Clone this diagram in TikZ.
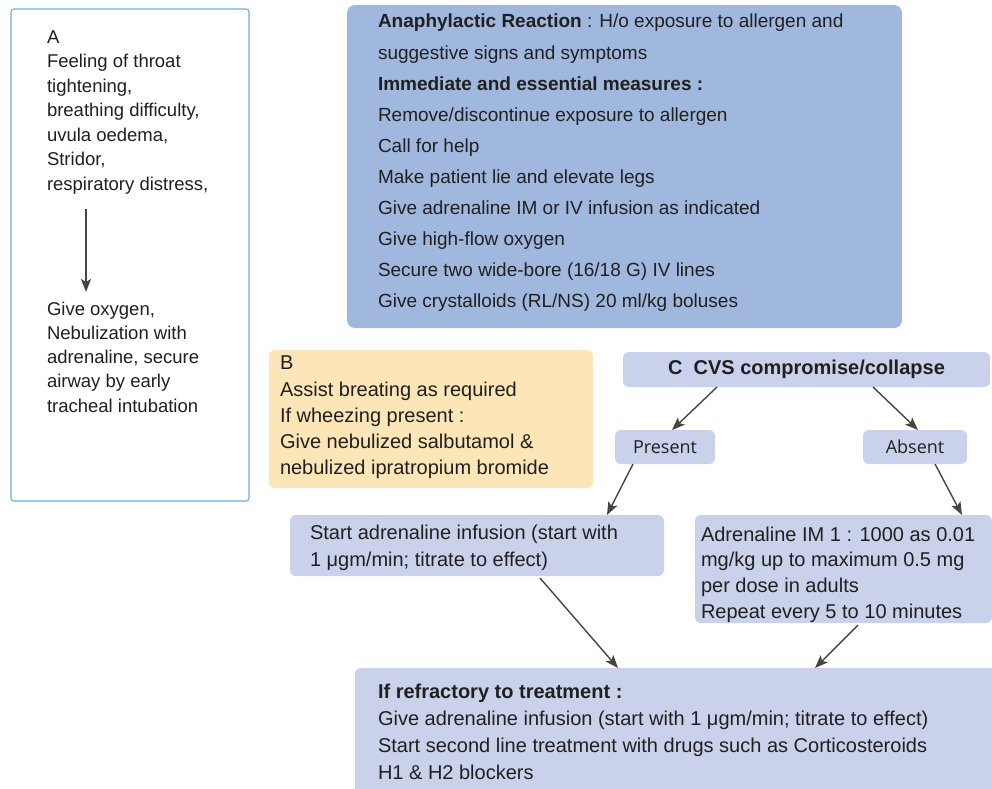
\documentclass[tikz,border=0pt]{standalone}
\usepackage{fontspec}
\setmainfont{Liberation Sans}
\newfontfamily\labelfont{Open Sans}
\usetikzlibrary{arrows.meta}

\definecolor{inkgrey}{HTML}{202020}
\definecolor{arrowgrey}{HTML}{454545}
\definecolor{frameblue}{HTML}{6AAEDD}
\definecolor{headblue}{HTML}{A1B8DE}
\definecolor{paleblue}{HTML}{C9D2EA}
\definecolor{paleorange}{HTML}{FCE5B6}

\tikzset{
  panel/.style={anchor=north west, inner sep=0pt, outer sep=0pt, rounded corners=6pt},
  txt/.style={anchor=north west, inner sep=0pt, outer sep=0pt, align=left, text=inkgrey},
  arr/.style={draw=arrowgrey, line width=1.4pt, -{Stealth[length=13pt,width=10pt,inset=3pt]}},
}

\begin{document}
\begin{tikzpicture}[x=1pt,y=-1pt]
\useasboundingbox (0,0) rectangle (992,788);
\fill[white] (0,0) rectangle (992,788);

% ---------- A : airway ----------
\node[panel, draw=frameblue, line width=1.1pt, fill=white, rounded corners=3pt,
      minimum width=238pt, minimum height=492pt] (boxA) at (11,9) {};
\node[txt, font=\fontsize{18.5}{24.5}\selectfont] (aSigns) at (47,25.9)
  {\strut A\\ Feeling of throat\\ tightening,\\ breathing difficulty,\\ uvula oedema,\\ Stridor,\\ respiratory distress,\strut};
\node[txt, font=\fontsize{18.5}{24.3}\selectfont] (aCare) at (47,298)
  {\strut Give oxygen,\\ Nebulization with\\ adrenaline, secure\\ airway by early\\ tracheal intubation};
\draw[arr] ([shift={(39pt,-12pt)}]aSigns.south west) -- ([shift={(39pt,6pt)}]aCare.north west);

% ---------- immediate measures ----------
\node[panel, fill=headblue, rounded corners=8pt, minimum width=555pt, minimum height=323pt] (boxTop) at (347,5) {};
\node[txt, font=\fontsize{19}{31.1}\selectfont] (topText) at (378,6.2)
  {\strut\textbf{Anaphylactic Reaction} : H/o exposure to allergen and\\
   suggestive signs and symptoms\\
   \textbf{Immediate and essential measures :}\\
   Remove/discontinue exposure to allergen\\
   Call for help\\
   Make patient lie and elevate legs\\
   Give adrenaline IM or IV infusion as indicated\\
   Give high-flow oxygen\\
   Secure two wide-bore (16/18 G) IV lines\\
   Give crystalloids (RL/NS) 20 ml/kg boluses};

% ---------- B : breathing ----------
\node[panel, fill=paleorange, minimum width=324pt, minimum height=138pt] (boxB) at (269,350) {};
\node[txt, font=\fontsize{20}{26.25}\selectfont] (bText) at (280,351.6)
  {\strut B\\ Assist breating as required\\ If wheezing present :\\ Give nebulized salbutamol \&\\ nebulized ipratropium bromide};

% ---------- C : circulation ----------
\node[panel, fill=paleblue, minimum width=367pt, minimum height=35pt,
      font=\fontsize{20}{24}\bfseries, text=inkgrey] (boxC) at (623,352) {\raisebox{-2pt}{C\ \ CVS compromise/collapse}};
\node[panel, fill=paleblue, minimum width=100pt, minimum height=34pt,
      font=\labelfont\fontsize{18}{21}\selectfont, text=inkgrey] (present) at (615,430) {Present};
\node[panel, fill=paleblue, minimum width=104pt, minimum height=34pt,
      font=\labelfont\fontsize{18}{21}\selectfont, text=inkgrey] (absent) at (863,430) {Absent};

\node[panel, fill=paleblue, minimum width=374pt, minimum height=61pt] (infusion) at (290,515) {};
\node[txt, font=\fontsize{20}{27}\selectfont] (infText) at (310,520.1)
  {\strut Start adrenaline infusion (start with\\ 1 μgm/min; titrate to effect)};

\node[panel, fill=paleblue, minimum width=297pt, minimum height=108pt] (imDose) at (695,515) {};
\node[txt, font=\fontsize{20}{25.7}\selectfont] (imText) at (701,523)
  {\strut Adrenaline IM 1 : 1000 as 0.01\\ mg/kg up to maximum 0.5 mg\\ per dose in adults\\ Repeat every 5 to 10 minutes};

\node[panel, fill=paleblue, minimum width=645pt, minimum height=130pt] (refractory) at (355,668) {};
\node[txt, font=\fontsize{20}{27}\selectfont] (refText) at (378,679.1)
  {\strut\textbf{If refractory to treatment :}\\
   Give adrenaline infusion (start with 1 μgm/min; titrate to effect)\\
   Start second line treatment with drugs such as Corticosteroids\\
   H1 \& H2 blockers};

% ---------- connectors ----------
\draw[arr] ([xshift=-89.5pt]boxC.south) -- ([xshift=7pt]present.north);
\draw[arr] ([xshift=66.5pt]boxC.south) -- ([xshift=3pt]absent.north);
\draw[arr] ([xshift=-32pt]present.south) -- ([xshift=130pt]infusion.north);
\draw[arr] ([xshift=20pt]absent.south) -- ([xshift=118.5pt]imDose.north);
\draw[arr] ([shift={(63pt,-2pt)}]infusion.south) -- ([xshift=-59.5pt]refractory.north);
\draw[arr] ([shift={(14.5pt,-2pt)}]imDose.south) -- ([xshift=137.5pt]refractory.north);
\end{tikzpicture}
\end{document}
